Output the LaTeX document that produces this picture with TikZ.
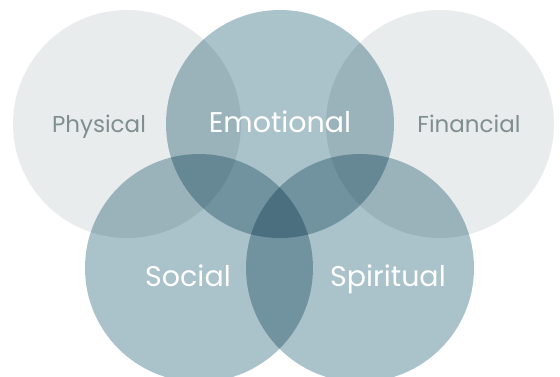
\documentclass[tikz,border=0pt]{standalone}
\usepackage{fontspec}
\setmainfont{Poppins}
\usepackage{tikz}
\definecolor{mist}{RGB}{232, 236, 237}
\definecolor{slate}{RGB}{170, 194, 202}
\definecolor{ash}{RGB}{128, 142, 143}

\tikzset{
  lightlabel/.style={color=ash, anchor=base, inner sep=0pt, font=\fontsize{23}{23}\selectfont},
  darklabel/.style={color=white, anchor=base, inner sep=0pt, font=\fontsize{28.5}{28.5}\selectfont}
}

\begin{document}
\begin{tikzpicture}[x=1pt, y=-1pt]
            % Frame to fix the page size
            \useasboundingbox                                  (0, 0) rectangle (560, 377);
            \clip                                              (0, 0) rectangle (560, 377);
            % Circles, overlaps darken by multiplying
            \begin{scope}[blend group=multiply]
                % Top row
                \fill[mist]                                    (127, 124) circle [radius=114pt];
                \fill[mist]                                    (440, 124) circle [radius=114pt];
                \fill[slate]                                   (280, 124) circle [radius=114pt];
                % Bottom row
                \fill[slate]                                   (199, 268) circle [radius=114pt];
                \fill[slate]                                   (360, 268) circle [radius=114pt];
            \end{scope}
            % Labels
            \node[lightlabel] (physical)  at ( 99, 133) {Physical};
            \node[darklabel]  (emotional) at (280, 133) {Emotional};
            \node[lightlabel] (financial) at (469, 133) {Financial};
            \node[darklabel]  (social)    at (188, 286) {Social};
            \node[darklabel]  (spiritual) at (388, 286) {Spiritual};
        \end{tikzpicture}
\end{document}
